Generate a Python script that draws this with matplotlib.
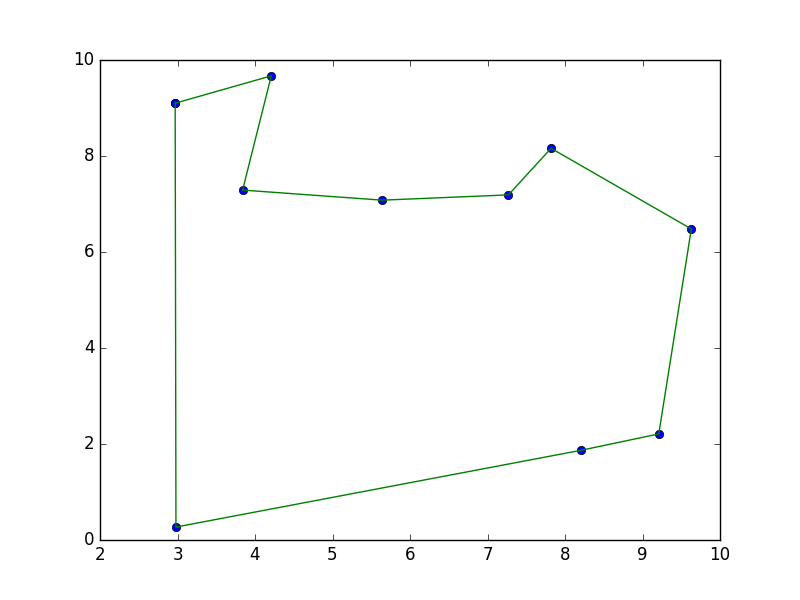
import matplotlib
matplotlib.use('Agg')
import matplotlib.pyplot as plt

plt.style.use('classic')

# Data points (closed path)
x_data = [2.97, 4.21, 3.84, 5.64, 7.27, 7.82, 9.63, 9.21, 8.21, 2.98, 2.97]
y_data = [9.10, 9.67, 7.29, 7.08, 7.19, 8.16, 6.48, 2.21, 1.87, 0.27, 9.10]

fig = plt.figure(figsize=(8, 6), dpi=100, facecolor='white')

# Points first, then the connecting line on top
plt.plot(x_data, y_data, 'bo')
plt.plot(x_data, y_data, 'g-')

plt.xlim(2, 10)
plt.ylim(0, 10)

plt.savefig('out.png', dpi=100, facecolor='white')
